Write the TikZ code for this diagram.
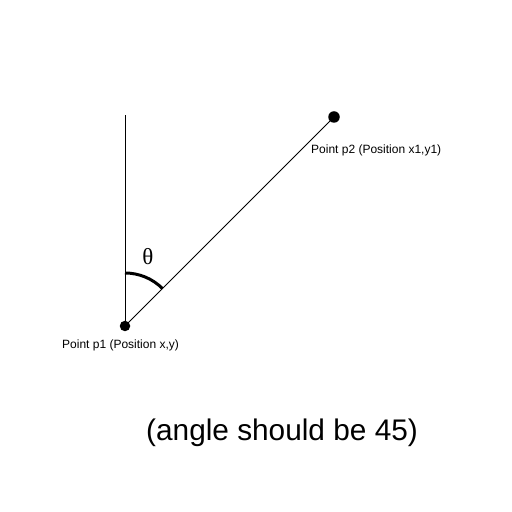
\documentclass[tikz,border=0pt]{standalone}
\usepackage{fontspec}
\setmainfont{Liberation Sans}
\newfontfamily\thetafont{Liberation Serif}
\begin{document}
\begin{tikzpicture}[x=1pt,y=1pt,
  thinline/.style={line width=1pt,black},
  dotnode/.style={circle,fill=black,inner sep=0pt,minimum size=10.5pt},
  lbl/.style={inner sep=0pt,anchor=base west,font=\fontsize{12}{14}\selectfont}]
\useasboundingbox[fill=white] (0,0) rectangle (512,512);
\node[dotnode] (p1) at (125,186) {};
\node[dotnode,minimum size=11.5pt] (p2) at (334,395) {};
\coordinate (top) at (125,397);
\draw[thinline] (p1.center) -- (top);
\draw[thinline] (p1.center) -- (p2.center);
\draw[line width=3pt] ([shift={(90:53)}]p1.center) arc[start angle=90,end angle=45,radius=53];
\node[font=\thetafont\fontsize{23}{25}\selectfont,inner sep=0pt] (th) at (148,255) {θ};
\node[lbl] (l1) at (62,163) {Point p1 (Position x,y)};
\node[lbl] (l2) at (311,358) {Point p2 (Position x1,y1)};
\node[inner sep=0pt,anchor=base west,font=\fontsize{29.8}{33}\selectfont] (note) at (146,71) {(angle should be 45)};
\end{tikzpicture}
\end{document}
